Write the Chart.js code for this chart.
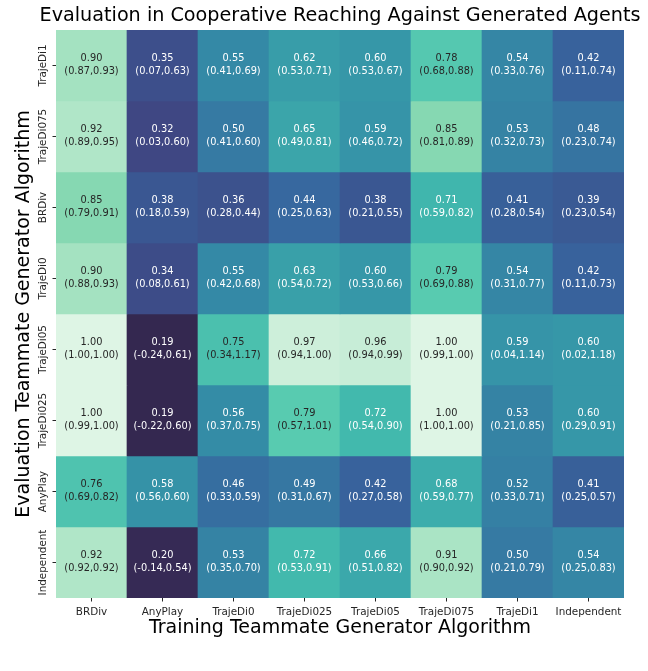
<!DOCTYPE html>
<html>
<head>
<meta charset="utf-8">
<script src="https://cdn.jsdelivr.net/npm/chart.js@4.4.1/dist/chart.umd.min.js"></script>
<style>
  html, body { margin: 0; padding: 0; background: #ffffff; }
  #wrap { width: 648px; height: 671px; }
</style>
</head>
<body>
<div id="wrap"><canvas id="c" width="648" height="671"></canvas></div>
<script>
// ---- data ----
const chartTitle = 'Evaluation in Cooperative Reaching Against Generated Agents';
const xAxisTitle = 'Training Teammate Generator Algorithm';
const yAxisTitle = 'Evaluation Teammate Generator Algorithm';
const colLabels = ['BRDiv', 'AnyPlay', 'TrajeDi0', 'TrajeDi025', 'TrajeDi05', 'TrajeDi075', 'TrajeDi1', 'Independent'];
const rowLabels = ['TrajeDi1', 'TrajeDi075', 'BRDiv', 'TrajeDi0', 'TrajeDi05', 'TrajeDi025', 'AnyPlay', 'Independent'];

const meanValues = [
  [0.90, 0.35, 0.55, 0.62, 0.60, 0.78, 0.54, 0.42],
  [0.92, 0.32, 0.50, 0.65, 0.59, 0.85, 0.53, 0.48],
  [0.85, 0.38, 0.36, 0.44, 0.38, 0.71, 0.41, 0.39],
  [0.90, 0.34, 0.55, 0.63, 0.60, 0.79, 0.54, 0.42],
  [1.00, 0.19, 0.75, 0.97, 0.96, 1.00, 0.59, 0.60],
  [1.00, 0.19, 0.56, 0.79, 0.72, 1.00, 0.53, 0.60],
  [0.76, 0.58, 0.46, 0.49, 0.42, 0.68, 0.52, 0.41],
  [0.92, 0.20, 0.53, 0.72, 0.66, 0.91, 0.50, 0.54]
];
const lowerCI = [
  [0.87, 0.07, 0.41, 0.53, 0.53, 0.68, 0.33, 0.11],
  [0.89, 0.03, 0.41, 0.49, 0.46, 0.81, 0.32, 0.23],
  [0.79, 0.18, 0.28, 0.25, 0.21, 0.59, 0.28, 0.23],
  [0.88, 0.08, 0.42, 0.54, 0.53, 0.69, 0.31, 0.11],
  [1.00, -0.24, 0.34, 0.94, 0.94, 0.99, 0.04, 0.02],
  [0.99, -0.22, 0.37, 0.57, 0.54, 1.00, 0.21, 0.29],
  [0.69, 0.56, 0.33, 0.31, 0.27, 0.59, 0.33, 0.25],
  [0.92, -0.14, 0.35, 0.53, 0.51, 0.90, 0.21, 0.25]
];
const upperCI = [
  [0.93, 0.63, 0.69, 0.71, 0.67, 0.88, 0.76, 0.74],
  [0.95, 0.60, 0.60, 0.81, 0.72, 0.89, 0.73, 0.74],
  [0.91, 0.59, 0.44, 0.63, 0.55, 0.82, 0.54, 0.54],
  [0.93, 0.61, 0.68, 0.72, 0.66, 0.88, 0.77, 0.73],
  [1.00, 0.61, 1.17, 1.00, 0.99, 1.00, 1.14, 1.18],
  [1.00, 0.60, 0.75, 1.01, 0.90, 1.00, 0.85, 0.91],
  [0.82, 0.60, 0.59, 0.67, 0.58, 0.77, 0.71, 0.57],
  [0.92, 0.54, 0.70, 0.91, 0.82, 0.92, 0.79, 0.83]
];

// ---- mako colormap (vmin 0, vmax 1) ----
const makoStops = [
  [0.000, [11, 4, 5]],
  [0.143, [46, 30, 59]],
  [0.286, [65, 61, 123]],
  [0.429, [55, 101, 158]],
  [0.571, [52, 143, 167]],
  [0.714, [64, 183, 173]],
  [0.790, [88, 203, 176]],
  [0.857, [139, 218, 178]],
  [1.000, [222, 245, 229]]
];
function mako(v) {
  const t = Math.max(0, Math.min(1, v));
  for (let i = 1; i < makoStops.length; i++) {
    const [t1, c1] = makoStops[i];
    const [t0, c0] = makoStops[i - 1];
    if (t <= t1) {
      const f = (t - t0) / (t1 - t0);
      return c0.map((c, k) => Math.round(c + f * (c1[k] - c)));
    }
  }
  return makoStops[makoStops.length - 1][1];
}
function rgbStr(c) { return 'rgb(' + c[0] + ',' + c[1] + ',' + c[2] + ')'; }
function relLum(c) {
  const l = c.map(x => { x /= 255; return x <= 0.03928 ? x / 12.92 : Math.pow((x + 0.055) / 1.055, 2.4); });
  return 0.2126 * l[0] + 0.7152 * l[1] + 0.0722 * l[2];
}

const FONT = 'DejaVu Sans';
const datasets = rowLabels.map((name, r) => ({
  label: name,
  data: colLabels.map(() => [r, r + 1]),
  backgroundColor: meanValues[r].map(v => rgbStr(mako(v))),
  borderWidth: 0,
  barPercentage: 1.0,
  categoryPercentage: 1.0,
  grouped: false
}));

const annotatePlugin = {
  id: 'annotate',
  afterDatasetsDraw(chart) {
    const ctx = chart.ctx;
    const xs = chart.scales.x, ys = chart.scales.y;
    ctx.save();
    ctx.font = '9.8px "' + FONT + '"';
    ctx.textAlign = 'center';
    ctx.textBaseline = 'middle';
    for (let r = 0; r < rowLabels.length; r++) {
      for (let c = 0; c < colLabels.length; c++) {
        const v = meanValues[r][c];
        const col = mako(v);
        ctx.fillStyle = relLum(col) > 0.408 ? '#262626' : '#ffffff';
        const x = xs.getPixelForValue(c);
        const y = ys.getPixelForValue(r + 0.5);
        ctx.fillText(v.toFixed(2), x, y - 7);
        ctx.fillText('(' + lowerCI[r][c].toFixed(2) + ',' + upperCI[r][c].toFixed(2) + ')', x, y + 5.5);
      }
    }
    ctx.restore();
  }
};

const titlePlugin = {
  id: 'centerTitle',
  afterDraw(chart) {
    const ctx = chart.ctx;
    const a = chart.chartArea;
    ctx.save();
    ctx.font = '19.2px "' + FONT + '"';
    ctx.fillStyle = '#000000';
    ctx.textAlign = 'center';
    ctx.textBaseline = 'middle';
    ctx.fillText(chartTitle, (a.left + a.right) / 2, 15.7);
    ctx.restore();
  }
};

new Chart(document.getElementById('c'), {
  type: 'bar',
  data: { labels: colLabels, datasets: datasets },
  plugins: [annotatePlugin, titlePlugin],
  options: {
    responsive: false,
    animation: false,
    devicePixelRatio: 1,
    layout: { padding: { left: 0, right: 24, top: 30, bottom: 0 } },
    plugins: { legend: { display: false }, tooltip: { enabled: false }, title: { display: false } },
    scales: {
      x: {
        type: 'category',
        offset: true,
        afterFit(scale) { scale.height = 73; },
        border: { display: false },
        grid: { display: true, drawOnChartArea: false, drawTicks: true, tickLength: 3.5, offset: false, tickColor: '#262626', tickWidth: 1 },
        ticks: { color: '#262626', font: { family: FONT, size: 10.4 }, padding: 4.5, autoSkip: false, maxRotation: 0, minRotation: 0 },
        title: { display: true, text: xAxisTitle, color: '#000000', font: { family: FONT, size: 19 }, padding: { top: 0, bottom: 32 } }
      },
      y: {
        type: 'linear',
        min: 0,
        max: 8,
        reverse: true,
        afterFit(scale) { scale.width = 56; },
        afterBuildTicks(scale) { scale.ticks = rowLabels.map((_, i) => ({ value: i + 0.5 })); },
        border: { display: false },
        grid: { display: true, drawOnChartArea: false, drawTicks: true, tickLength: 3.5, tickColor: '#262626', tickWidth: 1 },
        ticks: {
          color: '#262626',
          font: { family: FONT, size: 10.4 },
          autoSkip: false,
          minRotation: 90,
          maxRotation: 90,
          crossAlign: 'center',
          padding: -24,
          callback: (v) => rowLabels[Math.floor(v)]
        },
        title: { display: true, text: yAxisTitle, color: '#000000', font: { family: FONT, size: 19 }, padding: { top: 13, bottom: 0 } }
      }
    }
  }
});
</script>
</body>
</html>
